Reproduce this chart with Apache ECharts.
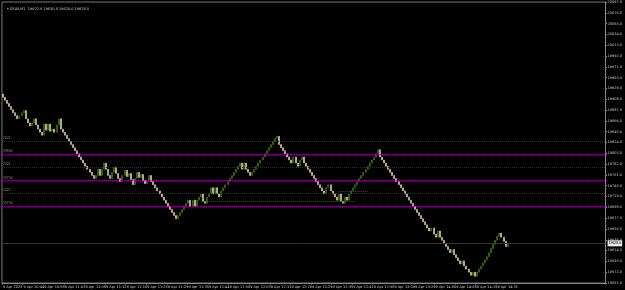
<!DOCTYPE html>
<html>
<head>
<meta charset="utf-8">
<script src="https://cdn.jsdelivr.net/npm/echarts/dist/echarts.min.js"></script>
<style>
  html, body { margin: 0; padding: 0; background: #000; }
  #chart { width: 625px; height: 290px; }
</style>
</head>
<body>
<div id="chart"></div>
<script>
// time labels along the bottom, one every 10 bars
const timeLabels = ['9 Apr 2025', '9 Apr 10:44', '9 Apr 10:58', '9 Apr 11:03', '9 Apr 11:08',
    '9 Apr 11:12', '9 Apr 11:16', '9 Apr 11:25', '9 Apr 11:29', '9 Apr 11:35',
    '9 Apr 11:44', '9 Apr 11:50', '9 Apr 12:03', '9 Apr 12:11', '9 Apr 12:26',
    '9 Apr 12:29', '9 Apr 12:35', '9 Apr 12:41', '9 Apr 12:56', '9 Apr 13:09',
    '9 Apr 13:29', '9 Apr 14:00', '9 Apr 14:08', '9 Apr 14:19', '9 Apr 14:31'];
const labelEvery = 10;
const totalSlots = 293; // includes empty space on the right (chart shift)

// bar closes, open of each bar = previous close
const startOpen = 19918;
const closes = [
    19912, 19906, 19900, 19894, 19888, 19882, 19876, 19870, 19876, 19882,
    19886, 19870, 19862, 19856, 19862, 19870, 19858, 19850, 19844, 19838,
    19860, 19848, 19860, 19846, 19850, 19844, 19858, 19870, 19850, 19844,
    19838, 19832, 19826, 19820, 19814, 19808, 19802, 19796, 19790, 19784,
    19778, 19772, 19766, 19760, 19754, 19760, 19772, 19760, 19772, 19784,
    19772, 19760, 19754, 19766, 19776, 19764, 19754, 19748, 19760, 19770,
    19758, 19764, 19752, 19742, 19754, 19766, 19756, 19762, 19750, 19744,
    19750, 19760, 19748, 19742, 19736, 19730, 19724, 19718, 19712, 19706,
    19700, 19694, 19688, 19682, 19676, 19682, 19688, 19694, 19700, 19706,
    19712, 19700, 19712, 19700, 19712, 19718, 19724, 19710, 19706, 19718,
    19724, 19736, 19724, 19736, 19724, 19718, 19730, 19736, 19742, 19748,
    19754, 19760, 19766, 19772, 19778, 19784, 19772, 19784, 19772, 19766,
    19760, 19766, 19772, 19778, 19784, 19790, 19796, 19802, 19808, 19814,
    19820, 19826, 19832, 19836, 19820, 19814, 19808, 19802, 19796, 19790,
    19784, 19796, 19784, 19778, 19790, 19796, 19784, 19778, 19772, 19766,
    19760, 19754, 19748, 19742, 19736, 19730, 19724, 19736, 19742, 19730,
    19724, 19718, 19712, 19724, 19710, 19706, 19718, 19712, 19724, 19730,
    19736, 19742, 19748, 19754, 19760, 19766, 19772, 19778, 19784, 19790,
    19796, 19802, 19810, 19796, 19790, 19784, 19778, 19772, 19766, 19760,
    19754, 19748, 19742, 19736, 19730, 19724, 19718, 19712, 19706, 19700,
    19694, 19688, 19682, 19676, 19670, 19664, 19658, 19652, 19658, 19646,
    19640, 19652, 19640, 19634, 19628, 19622, 19616, 19610, 19616, 19606,
    19600, 19594, 19588, 19594, 19584, 19578, 19572, 19566, 19572, 19564,
    19572, 19578, 19584, 19590, 19596, 19602, 19610, 19618, 19626, 19634,
    19642, 19648, 19640, 19632, 19622, 19628
];

// price scale (right axis)
const yMin = 19551;
const yMax = 20097;
const yStep = 21;

// drawn levels
const purpleLevels = [19802, 19750, 19700];
const purpleNames = ['19800', '19750', '19700'];
const grayLevels = [19827, 19776, 19725];
const grayLevelNames = ['2021', '2021', '2022'];
const brownSegments = [[96, 171, 19710], [163, 177, 19729]];

const titleText = 'DE40,M1  19622.0 19630.0 19620.0 19628.0';

const categories = [];
for (let i = 0; i < totalSlots; i++) {
    const k = i / labelEvery;
    categories.push(i % labelEvery === 0 && timeLabels[k] ? timeLabels[k] : '');
}

const candles = closes.map((c, i) => {
    const o = i ? closes[i - 1] : startOpen;
    return [o, c, Math.min(o, c), Math.max(o, c)];
});

const lastClose = closes[closes.length - 1];

const levelLabel = {
    show: true, position: 'insideStartTop', color: '#8a8a8a', fontSize: 3.5, distance: 1,
    formatter: p => p.name
};

// helper series that only carries a group of level lines
function levelSeries(lineStyle, data, label) {
    return {
        type: 'line',
        data: [],
        silent: true,
        markLine: {
            silent: true,
            symbol: 'none',
            animation: false,
            lineStyle: lineStyle,
            label: label,
            emphasis: {disabled: true},
            data: data
        }
    };
}

const myChart = echarts.init(document.getElementById('chart'));
let option;

option = {
    animation: false,
    backgroundColor: '#000',
    title: {
        text: '\u25be ' + titleText,
        left: 2,
        top: 2,
        textStyle: {color: '#c8c8c8', fontSize: 3.5, fontWeight: 'normal', fontFamily: 'DejaVu Sans'}
    },
    grid: {
        left: 0, right: 15, top: 1, bottom: 7,
        show: true, borderColor: '#777', borderWidth: 1, backgroundColor: '#000'
    },
    xAxis: {
        type: 'category',
        data: categories,
        boundaryGap: true,
        axisLine: {lineStyle: {color: '#888'}},
        axisTick: {
            show: true, length: 1.5, lineStyle: {color: '#888'},
            interval: (i) => i % labelEvery === 0 && i < closes.length
        },
        axisLabel: {
            interval: 0, color: '#c8c8c8', fontSize: 3.5, margin: 2, align: 'left',
            fontFamily: 'DejaVu Sans'
        },
        splitLine: {show: false}
    },
    yAxis: {
        type: 'value',
        position: 'right',
        min: yMin,
        max: yMax,
        interval: yStep,
        scale: true,
        axisLine: {show: true, lineStyle: {color: '#888'}},
        axisTick: {show: true, length: 1.5, lineStyle: {color: '#888'}},
        axisLabel: {
            color: '#c8c8c8', fontSize: 3.5, margin: 2, fontFamily: 'DejaVu Sans',
            showMinLabel: true, showMaxLabel: true,
            formatter: v => v.toFixed(1)
        },
        splitLine: {show: false}
    },
    series: [
        levelSeries({color: '#303030', type: 'dotted', width: 1, opacity: 1},
            grayLevels.map((v, i) => ({yAxis: v, name: grayLevelNames[i]})), levelLabel),
        levelSeries({color: '#a000a0', type: 'dotted', width: 1, opacity: 1},
            purpleLevels.map((v, i) => ({yAxis: v, name: purpleNames[i]})), levelLabel),
        levelSeries({color: '#6a4214', type: 'dotted', width: 1, opacity: 1},
            brownSegments.map(s => [{coord: [s[0], s[2]]}, {coord: [s[1], s[2]]}]), {show: false}),
        levelSeries({color: '#2a3a30', type: 'solid', width: 1, opacity: 1},
            [{yAxis: lastClose}], {
                show: true, position: 'end', formatter: lastClose.toFixed(1), distance: 2,
                color: '#000', backgroundColor: '#e8e8e8', fontSize: 3.5, padding: [1, 1]
            }),
        {
            type: 'candlestick',
            data: candles,
            barWidth: 1.5,
            itemStyle: {
                color: '#3c7f0e',
                color0: '#f3dcb0',
                borderColor: '#3c7f0e',
                borderColor0: '#f3dcb0',
                borderWidth: 0.5
            }
        }
    ]
};
option && myChart.setOption(option);
</script>
</body>
</html>
